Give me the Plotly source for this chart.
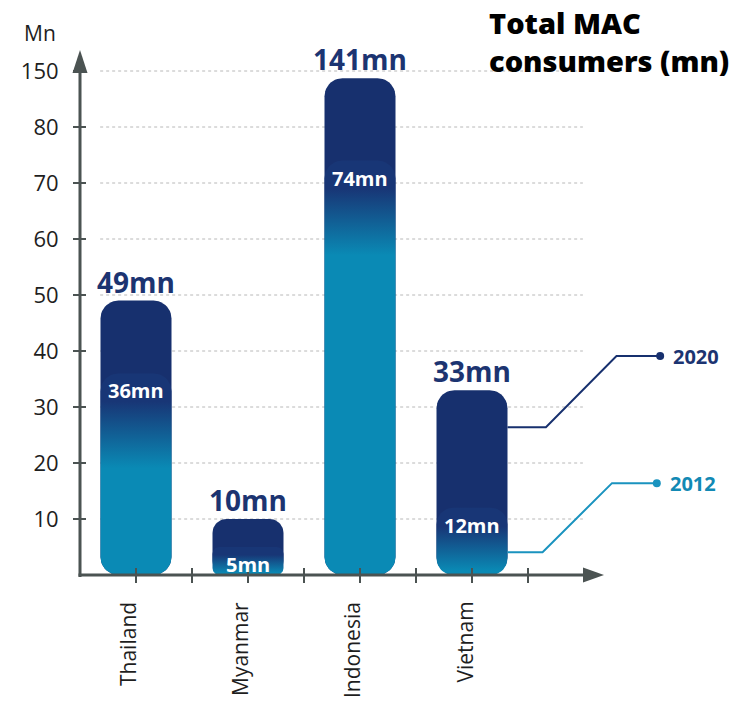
import numpy as np
import plotly.graph_objects as go

# ---- data -------------------------------------------------------------
countries = ["Thailand", "Myanmar", "Indonesia", "Vietnam"]
consumers_2020 = [49, 10, 141, 33]
consumers_2012 = [36, 5, 74, 12]
y_tick_values = [10, 20, 30, 40, 50, 60, 70, 80, 150]
legend_years = ["2020", "2012"]

# ---- layout constants ---------------------------------------------------
W, H = 740, 705
M_L, M_R, M_T, M_B = 80, 0, 0, 130
PLOT_W, PLOT_H = W - M_L - M_R, H - M_T - M_B
PX_PER_CAT = 112.0      # pixels between category centres
PX_PER_UNIT = 5.6       # pixels per million on the linear part of the axis
X_RANGE = [-0.5, -0.5 + PLOT_W / PX_PER_CAT]
Y_RANGE = [0.0, PLOT_H / PX_PER_UNIT]
KX = PLOT_W / (X_RANGE[1] - X_RANGE[0])
KY = PLOT_H / (Y_RANGE[1] - Y_RANGE[0])

# broken value axis: linear up to 80, then 80..150 squeezed into one step
BREAK_AT, BREAK_TOP, BREAK_SPAN = 80, 150, 10


def to_axis(v):
    if v <= BREAK_AT:
        return float(v)
    return BREAK_AT + (v - BREAK_AT) * BREAK_SPAN / (BREAK_TOP - BREAK_AT)


def paper_x(px):
    return (px - M_L) / PLOT_W


def paper_y(py):
    return (H - M_B - py) / PLOT_H


NAVY = "#17306e"
NAVY_2 = "#183676"
TEAL = "#0a8ab5"
AXIS = "#4b5352"
GRID = "#b8b8b8"
TEXT = "#1e1e1e"
FONT = "Open Sans"
BAR_HALF = 0.317
CORNER_PX = 18
GRADIENT_SPAN = 18


def rounded_bar(xc, top, bottom=0.0):
    """Rounded rectangle outline in data coordinates."""
    h_px = (top - bottom) * KY
    r = min(CORNER_PX, h_px / 4.0, BAR_HALF * KX)
    rx, ry = r / KX, r / KY
    left, right = xc - BAR_HALF, xc + BAR_HALF
    corners = [
        (right - rx, bottom + ry, -90, 0),
        (right - rx, top - ry, 0, 90),
        (left + rx, top - ry, 90, 180),
        (left + rx, bottom + ry, 180, 270),
    ]
    xs, ys = [], []
    for cx, cy, a0, a1 in corners:
        t = np.radians(np.linspace(a0, a1, 12))
        xs.extend(cx + rx * np.cos(t))
        ys.extend(cy + ry * np.sin(t))
    xs.append(xs[0])
    ys.append(ys[0])
    return xs, ys


fig = go.Figure()

# dotted grid lines
grid_shapes = []
for v in y_tick_values:
    grid_shapes.append(dict(type="line", xref="x", yref="y",
                            x0=-0.32, x1=3.99, y0=to_axis(v), y1=to_axis(v),
                            line=dict(color=GRID, width=1, dash="dot"),
                            layer="below"))

annotations = []
for i, (name, v20, v12) in enumerate(zip(countries, consumers_2020, consumers_2012)):
    top20 = to_axis(v20)
    top12 = to_axis(v12)
    xs, ys = rounded_bar(i, top20)
    fig.add_trace(go.Scatter(x=xs, y=ys, mode="lines", fill="toself",
                             fillcolor=NAVY, line=dict(width=0),
                             hoverinfo="skip", showlegend=False))
    xs, ys = rounded_bar(i, top12)
    fig.add_trace(go.Scatter(
        x=xs, y=ys, mode="lines", fill="toself", line=dict(width=0),
        fillgradient=dict(type="vertical",
                          start=max(0.0, top12 - GRADIENT_SPAN), stop=top12,
                          colorscale=[[0, TEAL], [0.06, TEAL],
                                      [0.72, NAVY_2], [1, NAVY_2]]),
        hoverinfo="skip", showlegend=False))
    annotations.append(dict(x=i, y=top20, xref="x", yref="y", yshift=19,
                            text=f"<b>{v20}mn</b>", showarrow=False,
                            yanchor="middle",
                            font=dict(family=FONT, size=28, color="#1c3471")))
    annotations.append(dict(x=i, y=top12, xref="x", yref="y", yshift=-2,
                            text=f"<b>{v12}mn</b>", showarrow=False,
                            yanchor="top",
                            font=dict(family=FONT, size=20, color="white")))
    # category name, rotated, hanging below the axis
    annotations.append(dict(x=i, y=0, xref="x", yref="y", yshift=-25, xshift=-8,
                            text=name, showarrow=False, textangle=-90,
                            xanchor="center", yanchor="top",
                            font=dict(family=FONT, size=21, color=TEXT)))

# year call-outs attached to the Vietnam bar
vi = countries.index("Vietnam")
callouts = [
    (legend_years[0], NAVY, "#1c3471", to_axis(consumers_2020[vi]) * 0.8, 39.1,
     [vi + BAR_HALF, 3.66, 4.29, 4.68]),
    (legend_years[1], "#1a93bf", "#1289b4", to_axis(consumers_2012[vi]) * 0.34, 16.4,
     [vi + BAR_HALF, 3.63, 4.25, 4.65]),
]
for label, lcol, tcol, y_start, y_end, xs in callouts:
    fig.add_trace(go.Scatter(x=xs, y=[y_start, y_start, y_end, y_end],
                             mode="lines", line=dict(color=lcol, width=2),
                             hoverinfo="skip", showlegend=False))
    fig.add_trace(go.Scatter(x=[xs[-1]], y=[y_end], mode="markers",
                             marker=dict(color=lcol, size=8),
                             hoverinfo="skip", showlegend=False))
    annotations.append(dict(x=xs[-1] + 0.1, y=y_end, xref="x", yref="y",
                            text=f"<b>{label}</b>", showarrow=False,
                            xanchor="left", yanchor="middle",
                            font=dict(family=FONT, size=20, color=tcol)))

annotations.append(dict(x=paper_x(487), y=paper_y(1), xref="paper", yref="paper",
                        text="Total MAC<br>consumers (mn)", showarrow=False,
                        xanchor="left", yanchor="top", align="left",
                        font=dict(family=FONT, size=29, color="black", weight=800)))
annotations.append(dict(x=paper_x(58), y=paper_y(33), xref="paper", yref="paper",
                        text="Mn", showarrow=False, xanchor="right", yanchor="middle",
                        font=dict(family=FONT, size=21, color=TEXT)))

# axis lines with arrow heads
axis_shapes = [
    dict(type="line", xref="paper", yref="paper",
         x0=0, x1=0, y0=paper_y(577), y1=paper_y(62),
         line=dict(color=AXIS, width=3)),
    dict(type="line", xref="paper", yref="paper",
         x0=paper_x(78.5), x1=paper_x(590), y0=0, y1=0,
         line=dict(color=AXIS, width=3)),
    dict(type="path", xref="paper", yref="paper",
         path=(f"M {paper_x(80)},{paper_y(50)} L {paper_x(72.5)},{paper_y(73)} "
               f"L {paper_x(87.5)},{paper_y(73)} Z"),
         fillcolor=AXIS, line=dict(width=0)),
    dict(type="path", xref="paper", yref="paper",
         path=(f"M {paper_x(604)},{paper_y(575)} L {paper_x(583)},{paper_y(567.5)} "
               f"L {paper_x(583)},{paper_y(582.5)} Z"),
         fillcolor=AXIS, line=dict(width=0)),
]

x_tickvals = [k * 0.5 for k in range(8)]
y_tickvals = [to_axis(v) for v in y_tick_values]

fig.update_layout(
    width=W, height=H,
    margin=dict(l=M_L, r=M_R, t=M_T, b=M_B, pad=0),
    paper_bgcolor="white", plot_bgcolor="white",
    showlegend=False,
    font=dict(family=FONT, size=18, color=TEXT),
    shapes=grid_shapes + axis_shapes,
    annotations=annotations,
    xaxis=dict(range=X_RANGE, showgrid=False, zeroline=False, showline=False,
               tickmode="array", tickvals=x_tickvals, showticklabels=False,
               ticks="outside", ticklen=7, tickwidth=2, tickcolor=AXIS,
               minor=dict(tickmode="array", tickvals=x_tickvals, ticks="inside",
                          ticklen=7, tickwidth=2, tickcolor=AXIS, showgrid=False),
               fixedrange=True),
    yaxis=dict(range=Y_RANGE, showgrid=False, zeroline=False, showline=False,
               tickmode="array", tickvals=y_tickvals,
               ticktext=[str(v) for v in y_tick_values],
               ticks="outside", ticklen=6, tickwidth=2, tickcolor=AXIS,
               ticklabelstandoff=10,
               tickfont=dict(family=FONT, size=22, color=TEXT),
               minor=dict(tickmode="array", tickvals=y_tickvals, ticks="inside",
                          ticklen=6, tickwidth=2, tickcolor=AXIS, showgrid=False),
               fixedrange=True),
)

fig.write_html("out.html")
